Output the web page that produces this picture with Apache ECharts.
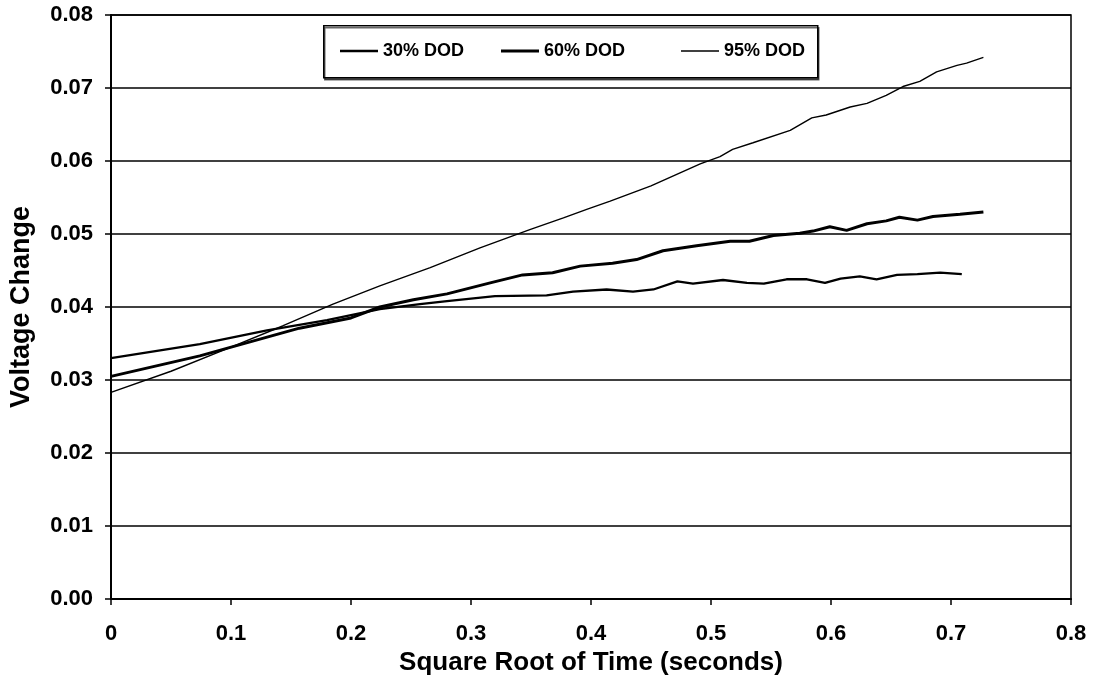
<!DOCTYPE html>
<html>
<head>
<meta charset="utf-8">
<script src="https://cdn.jsdelivr.net/npm/echarts@6/dist/echarts.min.js"></script>
<style>
html,body{margin:0;padding:0;background:#fff;}
#chart{width:1093px;height:684px;}
</style>
</head>
<body>
<div id="chart"></div>
<script>
var seriesNames = ['30% DOD', '60% DOD', '95% DOD'];

var x30 = [0, 0.074, 0.13, 0.18, 0.224, 0.2575, 0.28, 0.32, 0.363, 0.385, 0.413, 0.435, 0.452, 0.472, 0.485, 0.51, 0.53, 0.544, 0.563, 0.58, 0.595, 0.608, 0.624, 0.638, 0.655, 0.672, 0.691, 0.709];
var y30 = [0.033, 0.0349, 0.0368, 0.0382, 0.0397, 0.0404, 0.0408, 0.0415, 0.0416, 0.0421, 0.0424, 0.0421, 0.0424, 0.0435, 0.0432, 0.0437, 0.0433, 0.0432, 0.0438, 0.0438, 0.0433, 0.0439, 0.0442, 0.0438, 0.0444, 0.0445, 0.0447, 0.0445];

var x60 = [0, 0.074, 0.157, 0.2, 0.224, 0.252, 0.28, 0.316, 0.343, 0.368, 0.391, 0.418, 0.438, 0.46, 0.488, 0.516, 0.532, 0.552, 0.574, 0.585, 0.599, 0.613, 0.63, 0.646, 0.657, 0.672, 0.685, 0.7075, 0.727];
var y60 = [0.0305, 0.0333, 0.0371, 0.0385, 0.0400, 0.0410, 0.0418, 0.0433, 0.0444, 0.0447, 0.0456, 0.0460, 0.0465, 0.0477, 0.0484, 0.0490, 0.0490, 0.0498, 0.0501, 0.0504, 0.0510, 0.0505, 0.0514, 0.0518, 0.0523, 0.0519, 0.0524, 0.0527, 0.0530];

var x95 = [0, 0.05, 0.1, 0.143, 0.185, 0.224, 0.266, 0.3075, 0.349, 0.377, 0.397, 0.416, 0.45, 0.491, 0.5075, 0.518, 0.535, 0.566, 0.584, 0.596, 0.616, 0.63, 0.646, 0.66, 0.674, 0.688, 0.705, 0.713, 0.727];
var y95 = [0.0283, 0.0312, 0.0345, 0.0374, 0.0404, 0.0429, 0.0454, 0.0481, 0.0506, 0.0522, 0.0534, 0.0545, 0.0566, 0.0596, 0.0606, 0.0616, 0.0625, 0.0642, 0.0659, 0.0663, 0.0674, 0.0679, 0.0690, 0.0702, 0.0709, 0.0722, 0.0731, 0.0734, 0.0742];

function zip(xs, ys) { return xs.map(function (x, i) { return [x, ys[i]]; }); }

var font = 'Liberation Sans, Arial, sans-serif';
var chart = echarts.init(document.getElementById('chart'), null, { renderer: 'canvas' });

var lineWidths = [2.3, 3, 1.4];
var legendIcons = ['path://M0,0H38V2.3H0Z', 'path://M0,0H38V3H0Z', 'path://M0,0H38V1.4H0Z'];
var legendLefts = [340, 501, 681];
var datas = [zip(x30, y30), zip(x60, y60), zip(x95, y95)];

chart.setOption({
  animation: false,
  backgroundColor: '#fff',
  grid: { left: 111, right: 22, top: 15, bottom: 85, show: true, borderColor: '#000', borderWidth: 1.5, backgroundColor: 'transparent' },
  graphic: [{
    type: 'rect', left: 323, top: 25, z: 3,
    shape: { width: 494, height: 52 },
    style: { fill: '#fff', stroke: '#000', lineWidth: 1.5, shadowColor: 'rgba(0,0,0,0.6)', shadowOffsetX: 1, shadowOffsetY: 2, shadowBlur: 0 }
  }],
  legend: seriesNames.map(function (n, i) {
    return {
      data: [{ name: n, icon: legendIcons[i] }],
      left: legendLefts[i], top: 42, padding: 0, z: 5,
      itemWidth: 38, itemHeight: 12,
      textStyle: { fontFamily: font, fontWeight: 'bold', fontSize: 18, color: '#000' }
    };
  }),
  xAxis: {
    type: 'value', min: 0, max: 0.8, interval: 0.1,
    name: 'Square Root of Time (seconds)', nameLocation: 'middle', nameGap: 48,
    nameTextStyle: { fontFamily: font, fontWeight: 'bold', fontSize: 26, color: '#000' },
    axisLine: { show: true, lineStyle: { color: '#000', width: 2 } },
    axisTick: { show: true, length: 6, lineStyle: { color: '#000', width: 1.5 } },
    splitLine: { show: false },
    axisLabel: { margin: 24, fontFamily: font, fontWeight: 'bold', fontSize: 22, color: '#000',
      formatter: function (v) { return v === 0 ? '0' : v.toFixed(1); } }
  },
  yAxis: {
    type: 'value', min: 0, max: 0.08, interval: 0.01,
    name: 'Voltage Change', nameLocation: 'middle', nameGap: 76, nameRotate: 90,
    nameTextStyle: { fontFamily: font, fontWeight: 'bold', fontSize: 27, color: '#000' },
    axisLine: { show: true, lineStyle: { color: '#000', width: 2 } },
    axisTick: { show: true, length: 6, lineStyle: { color: '#000', width: 1.5 } },
    splitLine: { show: true, lineStyle: { color: '#000', width: 1.5 } },
    axisLabel: { margin: 18, fontFamily: font, fontWeight: 'bold', fontSize: 22, color: '#000',
      formatter: function (v) { return v.toFixed(2); } }
  },
  series: seriesNames.map(function (n, i) {
    return {
      name: n, type: 'line', data: datas[i], symbol: 'none', smooth: false,
      lineStyle: { color: '#000', width: lineWidths[i] },
      itemStyle: { color: '#000' }
    };
  })
});
</script>
</body>
</html>
